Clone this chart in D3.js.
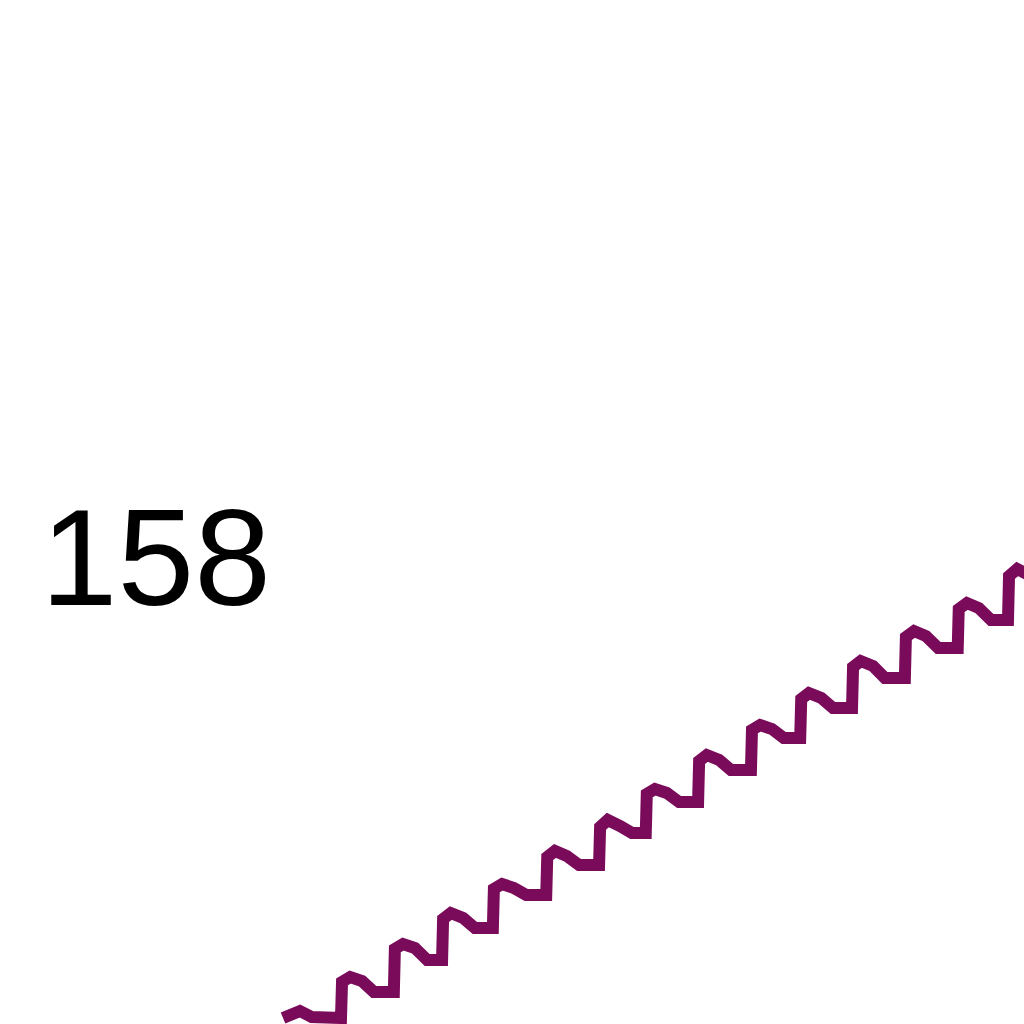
<!DOCTYPE html>
<html>
<head>
<meta charset="utf-8">
<script src="https://cdn.jsdelivr.net/npm/d3@7"></script>
<style>
  html, body { margin: 0; padding: 0; background: #ffffff; }
  svg { display: block; }
</style>
</head>
<body>
<svg id="chart" width="1024" height="1024"></svg>
<script>
// ---- data ----
const years = [
  1999.87, 2000.20, 2000.43,
  2001.00, 2001.02, 2001.18, 2001.41, 2001.64,
  2002.03, 2002.05, 2002.21, 2002.44, 2002.68,
  2002.97, 2002.99, 2003.14, 2003.38, 2003.61,
  2003.96, 2003.98, 2004.14, 2004.37, 2004.61,
  2005.00, 2005.02, 2005.17, 2005.40, 2005.64,
  2006.03, 2006.05, 2006.20, 2006.44, 2006.67,
  2006.94, 2006.96, 2007.12, 2007.35, 2007.59,
  2007.96, 2007.98, 2008.13, 2008.37, 2008.60,
  2008.99, 2009.01, 2009.17, 2009.40, 2009.63,
  2009.95, 2009.97, 2010.12, 2010.36, 2010.59,
  2010.96, 2010.98, 2011.13, 2011.37, 2011.60,
  2011.99, 2012.01, 2012.17, 2012.40, 2012.64,
  2013.02, 2013.04, 2013.20, 2013.43, 2013.67,
  2014.00, 2014.02, 2014.18, 2014.41, 2014.64
];
const values = [
  148.74, 148.88, 148.76,
  148.74, 149.46, 149.56, 149.48, 149.26,
  149.26, 150.12, 150.22, 150.14, 149.90,
  149.90, 150.72, 150.84, 150.74, 150.54,
  150.54, 151.32, 151.42, 151.34, 151.20,
  151.20, 151.96, 152.08, 151.98, 151.80,
  151.80, 152.56, 152.70, 152.58, 152.44,
  152.44, 153.22, 153.32, 153.24, 153.06,
  153.06, 153.88, 154.00, 153.90, 153.70,
  153.70, 154.50, 154.60, 154.52, 154.34,
  154.34, 155.12, 155.24, 155.14, 154.94,
  154.94, 155.76, 155.88, 155.78, 155.54,
  155.54, 156.36, 156.48, 156.38, 156.14,
  156.14, 156.92, 157.04, 156.94, 156.70,
  156.70, 157.58, 157.72, 157.60, 157.36
];
const yTickValues = [158];

// ---- drawing ----
const svg = d3.select("#chart");

const x = d3.scaleLinear().domain([2001, 2014]).range([341, 1008]);
const y = d3.scaleLinear().domain([148, 158]).range([1055, 555]);

const data = years.map((t, i) => ({ t: t, v: values[i] }));

const line = d3.line()
  .x(d => x(d.t))
  .y(d => y(d.v))
  .curve(d3.curveLinear);

svg.append("path")
  .datum(data)
  .attr("d", line)
  .attr("fill", "none")
  .attr("stroke", "#7a0a5a")
  .attr("stroke-width", 12)
  .attr("stroke-linejoin", "miter")
  .attr("stroke-miterlimit", 2)
  .attr("stroke-linecap", "butt");

const yAxis = d3.axisLeft(y)
  .tickValues(yTickValues)
  .tickSize(0)
  .tickPadding(0)
  .tickFormat(d3.format("d"));

const gy = svg.append("g")
  .attr("transform", "translate(271,0)")
  .call(yAxis);

gy.select(".domain").remove();
gy.selectAll(".tick text")
  .attr("fill", "#000000")
  .attr("font-family", "'Liberation Sans', Arial, sans-serif")
  .attr("font-size", 138)
  .attr("dy", "0.355em");
</script>
</body>
</html>
